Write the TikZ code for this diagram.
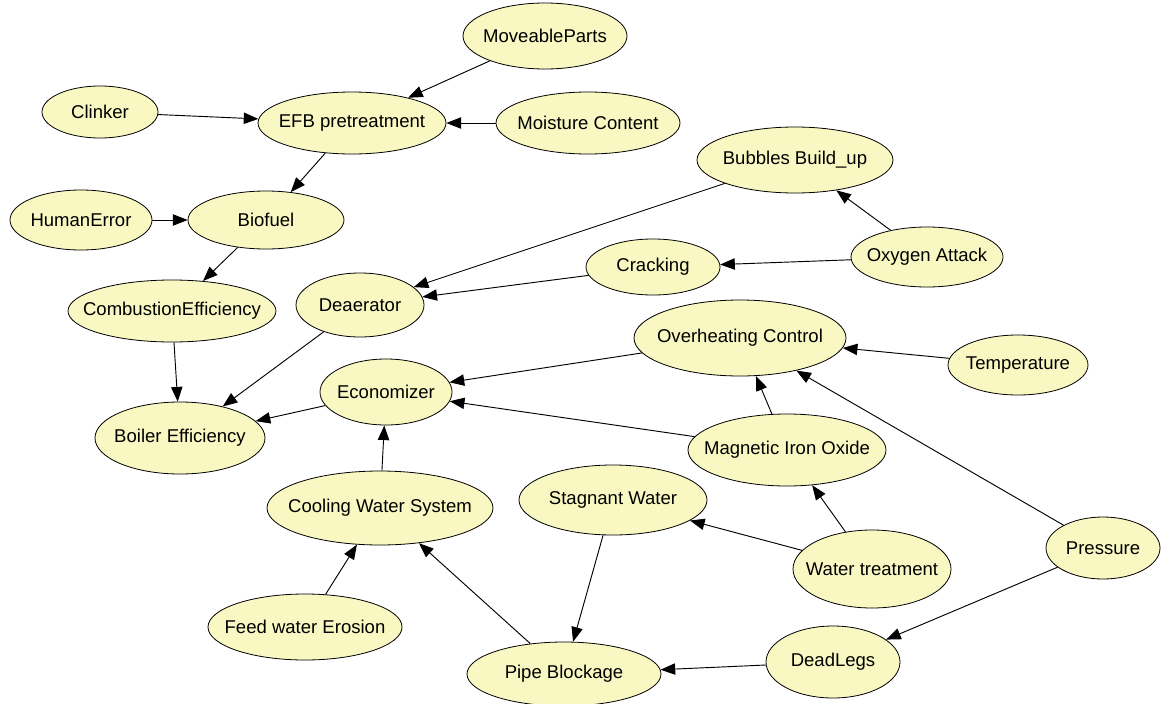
\documentclass[tikz,border=0pt]{standalone}
\usepackage{fontspec}
\setmainfont{Liberation Sans}
\usetikzlibrary{shapes.geometric,arrows.meta}
\definecolor{nodefill}{RGB}{250,248,194}

\begin{document}
\begin{tikzpicture}[x=0.75pt, y=-0.75pt,
    font=\fontsize{13.9}{16}\selectfont,
    >={Triangle[length=11pt, width=8.5pt]},
    var/.style={draw, ellipse, fill=nodefill, inner xsep=-100pt, inner ysep=0pt, line width=0.6pt},
    link/.style={->, line width=0.7pt}]
    \useasboundingbox (0, 0) rectangle (1163, 703);

    \node (moveable) [var, minimum width=123pt, minimum height=49.5pt] at (545, 36) {MoveableParts};
    \node (clinker) [var, minimum width=87pt, minimum height=39pt] at (100, 112) {Clinker};
    \node (efb) [var, minimum width=141pt, minimum height=46.5pt] at (352, 123) {EFB pretreatment};
    \node (moist) [var, minimum width=138pt, minimum height=46.5pt] at (588, 123) {Moisture Content};
    \node (bubbles) [var, minimum width=147pt, minimum height=49.5pt] at (795, 160) {Bubbles Build\_up};
    \node (human) [var, minimum width=106.5pt, minimum height=45pt] at (81, 220) {HumanError};
    \node (biofuel) [var, minimum width=117pt, minimum height=43.5pt] at (266, 220) {Biofuel};
    \node (oxygen) [var, minimum width=114pt, minimum height=45pt] at (927, 257) {Oxygen Attack};
    \node (crack) [var, minimum width=100.5pt, minimum height=42pt] at (653, 267) {Cracking};
    \node (combust) [var, minimum width=156pt, minimum height=46.5pt] at (172, 311) {CombustionEfficiency};
    \node (deaer) [var, minimum width=96pt, minimum height=48pt] at (360, 305) {Deaerator};
    \node (overheat) [var, minimum width=159pt, minimum height=57pt] at (740, 338) {Overheating Control};
    \node (temp) [var, minimum width=105pt, minimum height=45pt] at (1018, 365) {Temperature};
    \node (econ) [var, minimum width=99pt, minimum height=49.5pt] at (386, 392) {Economizer};
    \node (boiler) [var, minimum width=127.5pt, minimum height=54pt] at (180, 438) {Boiler Efficiency};
    \node (magnet) [var, minimum width=148.5pt, minimum height=54pt] at (787, 450) {Magnetic Iron Oxide};
    \node (cooling) [var, minimum width=169.5pt, minimum height=55.5pt] at (380, 508) {Cooling Water System};
    \node (stagnant) [var, minimum width=141pt, minimum height=52.5pt] at (613, 500) {Stagnant Water};
    \node (pressure) [var, minimum width=85.5pt, minimum height=46.5pt] at (1103, 548) {Pressure};
    \node (treat) [var, minimum width=118.5pt, minimum height=58.5pt] at (872, 569) {Water treatment};
    \node (feed) [var, minimum width=145.5pt, minimum height=49.5pt] at (305, 627) {Feed water Erosion};
    \node (dead) [var, minimum width=100.5pt, minimum height=54pt] at (833, 662) {DeadLegs};
    \node (pipe) [var, minimum width=145.5pt, minimum height=48pt] at (564, 674) {Pipe Blockage};

    \draw[link] (moveable) -- (efb);
    \draw[link] (clinker) -- (efb);
    \draw[link] (moist) -- (efb);
    \draw[link] (efb) -- (biofuel);
    \draw[link] (human) -- (biofuel);
    \draw[link] (biofuel) -- (combust);
    \draw[link] (combust) -- (boiler);
    \draw[link] (deaer) -- (boiler);
    \draw[link] (econ) -- (boiler);
    \draw[link] (bubbles) -- (deaer);
    \draw[link] (crack) -- (deaer);
    \draw[link] (oxygen) -- (bubbles);
    \draw[link] (oxygen) -- (crack);
    \draw[link] (overheat) -- (econ);
    \draw[link] (magnet) -- (econ);
    \draw[link] (magnet) -- (overheat);
    \draw[link] (temp) -- (overheat);
    \draw[link] (pressure) -- (overheat);
    \draw[link] (pressure) -- (dead);
    \draw[link] (cooling) -- (econ);
    \draw[link] (feed) -- (cooling);
    \draw[link] (pipe) -- (cooling);
    \draw[link] (stagnant) -- (pipe);
    \draw[link] (treat) -- (stagnant);
    \draw[link] (treat) -- (magnet);
    \draw[link] (dead) -- (pipe);
\end{tikzpicture}
\end{document}
